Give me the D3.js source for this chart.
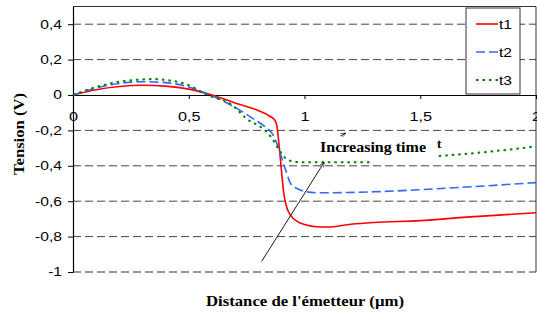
<!DOCTYPE html>
<html>
<head>
<meta charset="utf-8">
<script src="https://cdn.jsdelivr.net/npm/d3@7"></script>
<style>
  body { margin: 0; background: #fff; }
  svg { display: block; }
</style>
</head>
<body>
<script>
    // values
    var xT1 = [0, 0.1, 0.2, 0.3, 0.4, 0.5, 0.6, 0.7, 0.8, 0.85, 0.87, 0.88, 0.89, 0.9, 0.91, 0.92, 0.94, 0.97, 1.0, 1.05, 1.1, 1.2, 1.3, 1.5, 1.7, 2.0];
    var yT1 = [0, 0.03, 0.048, 0.055, 0.05, 0.033, 0.0, -0.045, -0.088, -0.12, -0.14, -0.17, -0.28, -0.42, -0.55, -0.62, -0.68, -0.715, -0.732, -0.744, -0.746, -0.73, -0.72, -0.71, -0.69, -0.665];

    var xT2 = [0, 0.1, 0.2, 0.3, 0.4, 0.5, 0.6, 0.7, 0.79, 0.83, 0.87, 0.89, 0.92, 0.94, 0.97, 1.0, 1.05, 1.1, 1.3, 1.5, 1.7, 2.0];
    var yT2 = [0, 0.04, 0.065, 0.075, 0.07, 0.045, -0.005, -0.07, -0.144, -0.18, -0.24, -0.31, -0.43, -0.5, -0.53, -0.545, -0.552, -0.552, -0.547, -0.535, -0.52, -0.495];

    var xT3 = [0, 0.1, 0.2, 0.3, 0.35, 0.4, 0.5, 0.58, 0.68, 0.76, 0.81, 0.86, 0.886, 0.92, 0.95, 0.99, 1.1, 1.29, 1.3, 1.58, 1.8, 2.0];
    var yT3 = [0, 0.045, 0.075, 0.088, 0.09, 0.085, 0.055, 0.0, -0.05, -0.144, -0.18, -0.245, -0.30, -0.36, -0.375, -0.38, -0.38, -0.38, null, -0.345, -0.32, -0.29];

    var seriesNames = ["t1", "t2", "t3"];
    var seriesColors = ["#ff0000", "#3366ff", "#008000"];
    var seriesDash = [null, "9,4", "2.5,4"];

    var yTicks = [0.4, 0.2, 0, -0.2, -0.4, -0.6, -0.8, -1];
    var xTicks = [0, 0.5, 1, 1.5, 2];

    var width = 537, height = 312;
    var margin = {top: 6.5, right: 1, bottom: 40, left: 73};
    var stretch = 1.3; // the picture is wider than tall, text too

    var svg = d3.select("body").append("svg")
        .attr("width", width)
        .attr("height", height);

    var xScale = d3.scaleLinear().domain([0, 2]).range([margin.left, width - margin.right]);
    var yScale = d3.scaleLinear().domain([-1, 0.5]).range([height - margin.bottom, margin.top]);

    var fmt = function(d) { return String(d).replace(".", ","); };

    // widen a text horizontally
    var widen = function(sel, k) {
        sel.each(function() {
            var w = this.getComputedTextLength();
            d3.select(this).attr("textLength", w * k).attr("lengthAdjust", "spacingAndGlyphs");
        });
    };

    // grid lines
    svg.append("g")
        .selectAll("line")
        .data(yTicks.filter(function(d) { return d !== 0; }))
        .enter().append("line")
        .attr("x1", xScale(0))
        .attr("x2", xScale(2))
        .attr("y1", function(d) { return yScale(d); })
        .attr("y2", function(d) { return yScale(d); })
        .attr("stroke", function(d) { return d === -1 ? "#777" : "#444"; })
        .attr("stroke-width", function(d) { return d === -1 ? 1.6 : 1; })
        .attr("stroke-dasharray", "8,4");

    // plot frame (top and right)
    svg.append("path")
        .attr("d", "M" + xScale(0) + "," + yScale(0.5) + "H" + xScale(2) + "V" + yScale(-1))
        .attr("fill", "none")
        .attr("stroke", "#333")
        .attr("stroke-width", 1);

    // y axis
    var yAxis = svg.append("g")
        .attr("transform", "translate(" + xScale(0) + ",0)")
        .call(d3.axisLeft(yScale).tickValues(yTicks).tickSize(5).tickSizeOuter(0).tickPadding(6).tickFormat(fmt));
    yAxis.select(".domain").attr("stroke", "#000").attr("stroke-width", 1.2);
    yAxis.selectAll("text").attr("font-family", "Arial, 'Liberation Sans', sans-serif").attr("font-size", 12).attr("fill", "#000")
        .call(widen, stretch);

    // x axis at y = 0
    var xAxis = svg.append("g")
        .attr("transform", "translate(0," + yScale(0) + ")")
        .call(d3.axisBottom(xScale).tickValues(xTicks).tickSize(4).tickSizeOuter(0).tickPadding(13).tickFormat(fmt));
    xAxis.select(".domain").attr("stroke", "#000").attr("stroke-width", 1.2);
    xAxis.selectAll("text").attr("font-family", "Arial, 'Liberation Sans', sans-serif").attr("font-size", 12.5).attr("fill", "#000")
        .call(widen, stretch);

    // curves
    var allX = [xT1, xT2, xT3];
    var allY = [yT1, yT2, yT3];
    var line = d3.line()
        .defined(function(d) { return d[1] !== null; })
        .x(function(d) { return xScale(d[0]); })
        .y(function(d) { return yScale(d[1]); })
        .curve(d3.curveMonotoneX);

    seriesNames.forEach(function(name, i) {
        var pts = allX[i].map(function(x, j) { return [x, allY[i][j]]; });
        svg.append("path")
            .datum(pts)
            .attr("fill", "none")
            .attr("stroke", seriesColors[i])
            .attr("stroke-width", i === 2 ? 2 : 1.6)
            .attr("stroke-dasharray", seriesDash[i])
            .attr("d", line);
    });

    // annotation arrow
    svg.append("defs").append("marker")
        .attr("id", "head")
        .attr("viewBox", "0 0 10 10")
        .attr("refX", 9).attr("refY", 5)
        .attr("markerWidth", 6).attr("markerHeight", 6)
        .attr("orient", "auto")
        .append("path")
        .attr("d", "M0,1L9,5L0,9")
        .attr("fill", "none")
        .attr("stroke", "#000");

    svg.append("line")
        .attr("x1", xScale(0.815)).attr("y1", yScale(-0.94))
        .attr("x2", xScale(1.085)).attr("y2", yScale(-0.38))
        .attr("stroke", "#000")
        .attr("stroke-width", 0.9)
        .attr("marker-end", "url(#head)");

    svg.append("line")
        .attr("x1", xScale(1.155)).attr("y1", yScale(-0.232))
        .attr("x2", xScale(1.178)).attr("y2", yScale(-0.215))
        .attr("stroke", "#000")
        .attr("stroke-width", 0.9)
        .attr("marker-end", "url(#head)");

    svg.append("text")
        .attr("x", 320).attr("y", 152)
        .attr("font-family", "'Liberation Serif', 'Times New Roman', serif")
        .attr("font-weight", "bold")
        .attr("font-size", 14)
        .attr("textLength", 106)
        .attr("lengthAdjust", "spacingAndGlyphs")
        .text("Increasing time");

    svg.append("text")
        .attr("x", 437).attr("y", 148)
        .attr("font-family", "'Liberation Serif', 'Times New Roman', serif")
        .attr("font-weight", "bold")
        .attr("font-size", 13)
        .text("t");

    // axis titles
    svg.append("text")
        .attr("transform", "translate(24,134) rotate(-90)")
        .attr("text-anchor", "middle")
        .attr("font-family", "'Liberation Serif', 'Times New Roman', serif")
        .attr("font-weight", "bold")
        .attr("font-size", 15)
        .attr("textLength", 82)
        .attr("lengthAdjust", "spacingAndGlyphs")
        .text("Tension (V)");

    svg.append("text")
        .attr("x", 305).attr("y", 306)
        .attr("text-anchor", "middle")
        .attr("font-family", "'Liberation Serif', 'Times New Roman', serif")
        .attr("font-weight", "bold")
        .attr("font-size", 14)
        .attr("textLength", 198)
        .attr("lengthAdjust", "spacingAndGlyphs")
        .text("Distance de l'émetteur (µm)");

    // legend
    var legend = svg.append("g").attr("transform", "translate(466,8)");
    legend.append("rect")
        .attr("width", 54).attr("height", 86)
        .attr("fill", "#fff")
        .attr("stroke", "#333")
        .attr("stroke-width", 1);

    var items = legend.selectAll("g.item")
        .data(seriesNames)
        .enter().append("g")
        .attr("class", "item")
        .attr("transform", function(d, i) { return "translate(0," + (16 + i * 28) + ")"; });

    items.append("line")
        .attr("x1", 10).attr("x2", 32)
        .attr("stroke", function(d, i) { return seriesColors[i]; })
        .attr("stroke-width", function(d, i) { return i === 2 ? 2 : 1.6; })
        .attr("stroke-dasharray", function(d, i) { return seriesDash[i]; });

    items.append("text")
        .attr("x", 33).attr("y", 5)
        .attr("font-family", "Arial, 'Liberation Sans', sans-serif")
        .attr("font-size", 13)
        .text(function(d) { return d; })
        .call(widen, 1.2);
</script>
</body>
</html>
